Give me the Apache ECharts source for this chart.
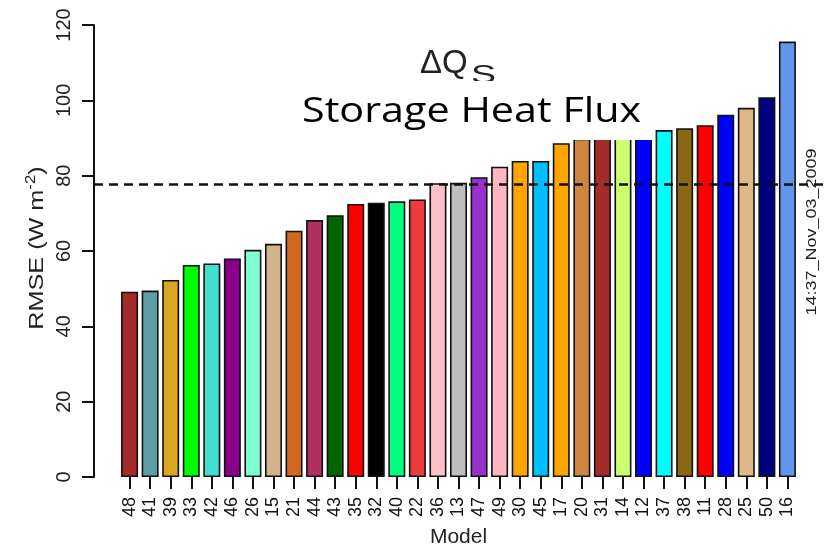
<!DOCTYPE html>
<html>
<head>
<meta charset="utf-8">
<script src="https://cdn.jsdelivr.net/npm/echarts@6/dist/echarts.min.js"></script>
<style>
  html, body { margin: 0; padding: 0; background: #fff; }
  #chart { width: 827px; height: 548px; }
</style>
</head>
<body>
<div id="chart"></div>
<script>
// Model identifiers, ordered by increasing RMSE
const categories = ['48','41','39','33','42','46','26','15','21','44','43','35','32','40','22','36','13',
  '47','49','30','45','17','20','31','14','12','37','38','11','28','25','50','16'];

// RMSE of storage heat flux (W m-2)
const rmse = [49.2, 49.5, 52.3, 56.3, 56.7, 58.0, 60.3, 61.9, 65.4, 68.2, 69.5, 72.5, 72.8, 73.2, 73.7,
  78.0, 78.1, 79.6, 82.4, 83.9, 83.9, 88.6, 89.8, 90.3, 90.8, 91.4, 92.1, 92.6, 93.4, 96.2, 98.0, 100.8, 115.6];

// Fill colour of each model's bar
const barColors = ['#A52A2A','#5F9EA0','#DAA520','#00FF00','#40E0D0','#8B008B','#7FFFD4','#D2B48C',
  '#D2691E','#B03060','#006400','#FF0000','#000000','#00FF7F','#EE3B3B','#FFC0CB','#BEBEBE',
  '#9932CC','#FFB6C1','#FFA500','#00BFFF','#FFA500','#CD853F','#A52A2A','#CAFF70','#0000FF',
  '#00FFFF','#8B6914','#FF0000','#0000FF','#DEB887','#000080','#6495ED'];

// Ensemble reference level (dashed line)
const referenceLine = 77.7;

const yTicks = { min: 0, max: 120, interval: 20 };
const stamp = '14:37_Nov_03_2009';

const chart = echarts.init(document.getElementById('chart'), null, { renderer: 'canvas' });
const font = 'Liberation Sans, Arial, Helvetica, sans-serif';

chart.setOption({
  backgroundColor: '#ffffff',
  animation: false,
  grid: [
    { left: 119.3, right: 29.3, top: 25, bottom: 71, containLabel: false, outerBoundsMode: 'none' },
    { left: 94, right: 4, top: 25, bottom: 71, containLabel: false, outerBoundsMode: 'none' }
  ],
  xAxis: [
    {
      type: 'category', gridIndex: 0, data: categories,
      axisLine: { show: false },
      axisTick: { show: true, alignWithLabel: true, length: 12, lineStyle: { color: '#111', width: 2 } },
      axisLabel: { rotate: 90, margin: 20, fontSize: 18, color: '#111', fontFamily: font, interval: 0 },
      name: 'Model', nameLocation: 'middle', nameGap: 50,
      nameTextStyle: { fontSize: 21, color: '#222', fontFamily: font }
    },
    { type: 'value', gridIndex: 1, min: 0, max: 1, show: false }
  ],
  yAxis: [
    {
      type: 'value', gridIndex: 0, min: yTicks.min, max: yTicks.max, interval: yTicks.interval,
      offset: 25.3,
      splitLine: { show: false },
      axisLine: { show: true, lineStyle: { color: '#111', width: 2 } },
      axisTick: { show: true, length: 12, lineStyle: { color: '#111', width: 2 } },
      axisLabel: { rotate: 90, margin: 20, fontSize: 20, color: '#222', fontFamily: font }
    },
    { type: 'value', gridIndex: 1, min: yTicks.min, max: yTicks.max, show: false }
  ],
  series: [
    {
      type: 'bar', xAxisIndex: 0, yAxisIndex: 0,
      barWidth: 17,
      data: rmse.map((v, i) => ({ value: v, itemStyle: { color: barColors[i] } })),
      itemStyle: { borderColor: '#111', borderWidth: 1.6 }
    },
    {
      type: 'line', xAxisIndex: 1, yAxisIndex: 1, data: [], z: 5,
      markLine: {
        silent: true, symbol: 'none', z: 5,
        label: { show: false },
        lineStyle: { color: '#111', width: 2.5, type: [9, 6] },
        data: [{ yAxis: referenceLine }]
      }
    }
  ],
  graphic: [
    // y-axis title, drawn vertically
    {
      type: 'text', x: 50, y: 248, rotation: Math.PI / 2, scaleX: 1.2, z: 50,
      style: {
        text: '{t|RMSE (W m}{s|-2}{t|)}', align: 'center', verticalAlign: 'bottom',
        rich: {
          t: { fontSize: 21, fill: '#222', fontFamily: font },
          s: { fontSize: 14, fill: '#222', fontFamily: font, padding: [0, 0, 12, 0] }
        }
      }
    },
    // heading: Delta Q with subscript S
    {
      type: 'text', x: 420, y: 47, z: 50,
      style: { text: 'ΔQ', fontSize: 33, fill: '#222', fontFamily: font }
    },
    {
      type: 'text', x: 471, y: 64, scaleX: 1.5, z: 50,
      style: { text: 'S', fontSize: 25, fill: '#222', fontFamily: font }
    },
    {
      type: 'rect', z: 60,
      shape: { x: 288, y: 81, width: 364, height: 59 },
      style: { fill: '#ffffff' }
    },
    {
      type: 'text', x: 302, y: 95, scaleX: 1.18, z: 70,
      style: { text: 'Storage Heat Flux', fontSize: 35, fill: '#000', fontFamily: 'Open Sans, Lato, sans-serif' }
    },
    // run timestamp on the right margin
    {
      type: 'text', x: 819, y: 232, rotation: Math.PI / 2, scaleX: 1.2, z: 50,
      style: { text: stamp, fontSize: 15, fill: '#222', fontFamily: font, align: 'center', verticalAlign: 'bottom' }
    }
  ]
});
</script>
</body>
</html>
